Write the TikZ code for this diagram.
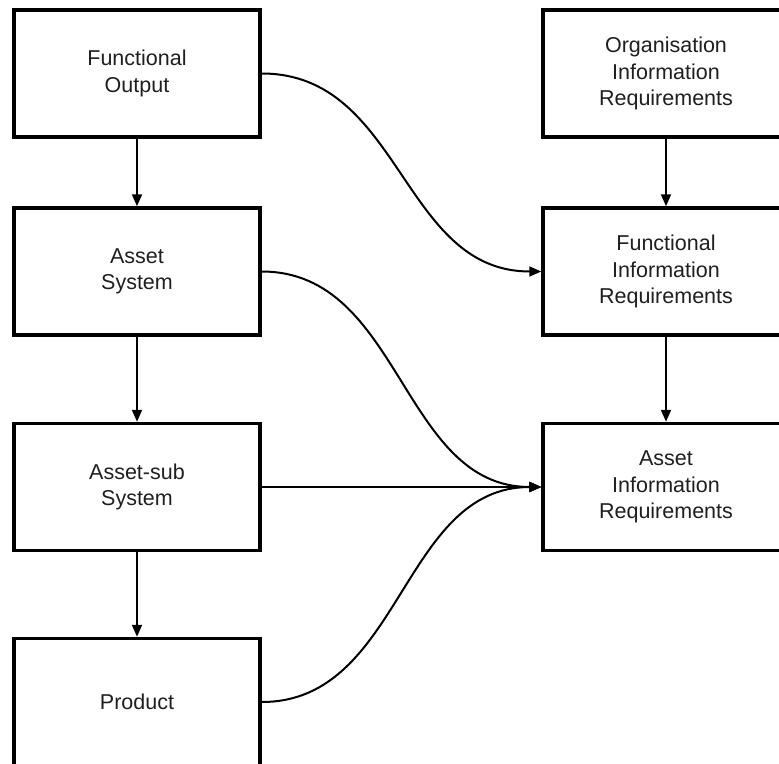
\documentclass[tikz,border=0pt]{standalone}
\usepackage{fontspec}
\setmainfont{Liberation Sans}
\usetikzlibrary{arrows.meta}
\begin{document}
\begin{tikzpicture}[x=1pt,y=-1pt,
  infobox/.style={draw=black,line width=3.5pt,fill=white,minimum width=246pt,
    minimum height=127pt,inner sep=0pt,align=center,text=black!88,
    font=\fontsize{21.5}{26.5}\selectfont},
  conn/.style={line width=2pt,-{Triangle[length=12pt,width=10pt]}}]
  \useasboundingbox (0,0) rectangle (779,763);
  \clip (0,0) rectangle (779,763);
  \fill[white] (0,0) rectangle (779,763);
  % left column
  \node[infobox] (fo)  at (137,73.5)  {Functional\\Output};
  \node[infobox] (as)  at (137,271.5) {Asset\\System};
  \node[infobox] (ass) at (137,487)   {Asset-sub\\System};
  \node[infobox] (pr)  at (137,702)   {Product};
  % right column
  \node[infobox] (oir) at (666,73.5)  {Organisation\\Information\\Requirements};
  \node[infobox] (fir) at (666,271.5) {Functional\\Information\\Requirements};
  \node[infobox] (air) at (666,487)   {Asset\\Information\\Requirements};
  % vertical links
  \draw[conn] (fo.south)  -- (as.north);
  \draw[conn] (as.south)  -- (ass.north);
  \draw[conn] (ass.south) -- (pr.north);
  \draw[conn] (oir.south) -- (fir.north);
  \draw[conn] (fir.south) -- (air.north);
  % links across
  \draw[conn] (fo.east)  .. controls +(140,0) and +(-140,0) .. (fir.west);
  \draw[conn] (as.east)  .. controls +(140,0) and +(-140,0) .. (air.west);
  \draw[conn] (ass.east) -- (air.west);
  \draw[conn] (pr.east)  .. controls +(140,0) and +(-140,0) .. (air.west);
\end{tikzpicture}
\end{document}
